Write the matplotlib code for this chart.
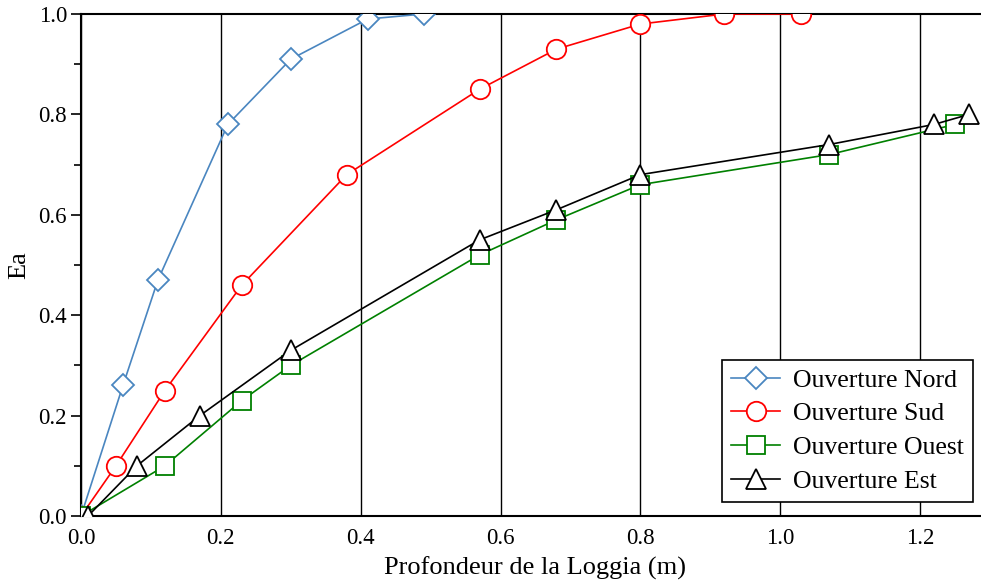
import matplotlib.pyplot as plt
from matplotlib.ticker import MultipleLocator

plt.rcParams['font.family'] = ['Liberation Serif', 'DejaVu Serif']

# ---------------- DATA ---------------- #
nord_x = [0.0, 0.06, 0.11, 0.21, 0.30, 0.41, 0.49]
nord_y = [0.0, 0.26, 0.47, 0.78, 0.91, 0.99, 1.0]

sud_x = [0.0, 0.05, 0.12, 0.23, 0.38, 0.57, 0.68, 0.80, 0.92, 1.03]
sud_y = [0.0, 0.10, 0.25, 0.46, 0.68, 0.85, 0.93, 0.98, 1.0, 1.0]

ouest_x = [0.0, 0.12, 0.23, 0.30, 0.57, 0.68, 0.80, 1.07, 1.25]
ouest_y = [0.0, 0.10, 0.23, 0.30, 0.52, 0.59, 0.66, 0.72, 0.78]

est_x = [0.01, 0.08, 0.17, 0.30, 0.57, 0.68, 0.80, 1.07, 1.22, 1.27]
est_y = [0.0, 0.10, 0.20, 0.33, 0.55, 0.61, 0.68, 0.74, 0.78, 0.80]


def main():
    fig = plt.figure(figsize=(9.81, 5.82), dpi=100)
    # right edge of the axes sits just past the image border
    ax = fig.add_axes([81 / 981, 66 / 582, 909 / 981, 502 / 582])

    ax.plot(nord_x, nord_y, color='#4a86c0', lw=1.2, marker='D', ms=11,
            mfc='white', mec='#4a86c0', mew=1.3, label='Ouverture Nord', zorder=3)
    ax.plot(sud_x, sud_y, color='red', lw=1.2, marker='o', ms=14,
            mfc='white', mec='red', mew=1.3, label='Ouverture Sud', zorder=3)
    ax.plot(ouest_x, ouest_y, color='green', lw=1.2, marker='s', ms=13,
            mfc='white', mec='green', mew=1.3, label='Ouverture Ouest', zorder=3)
    ax.plot(est_x, est_y, color='black', lw=1.2, marker='^', ms=15,
            mfc='white', mec='black', mew=1.3, label='Ouverture Est', zorder=4)

    ax.set_xlim(0, 1.3)
    ax.set_ylim(0, 1.0)
    ax.xaxis.set_major_locator(MultipleLocator(0.2))
    ax.yaxis.set_major_locator(MultipleLocator(0.2))
    ax.yaxis.set_minor_locator(MultipleLocator(0.1))
    ax.xaxis.set_major_formatter(plt.FormatStrFormatter('%.1f'))
    ax.yaxis.set_major_formatter(plt.FormatStrFormatter('%.1f'))

    ax.grid(True, axis='x', color='black', lw=1.0)
    ax.tick_params(axis='x', length=0, labelsize=16.5, pad=9)
    ax.tick_params(axis='y', which='major', direction='out', length=7,
                   width=1.2, labelsize=16.5, right=True, pad=3)
    ax.tick_params(axis='y', which='minor', direction='out', length=5,
                   width=1.2, right=True)
    for s in ax.spines.values():
        s.set_linewidth(1.5)

    ax.set_xlabel('Profondeur de la Loggia (m)', fontsize=19, labelpad=5)
    ax.set_ylabel('Ea', fontsize=19, labelpad=6)

    leg = ax.legend(loc='lower right', bbox_to_anchor=(0.981, 0.028),
                    borderaxespad=0, fontsize=18.5, fancybox=False,
                    framealpha=1, edgecolor='black', handlelength=1.9,
                    borderpad=0.35, labelspacing=0.42, handletextpad=0.5)
    leg.get_frame().set_linewidth(1.2)

    fig.savefig('out.png', dpi=100)


if __name__ == "__main__":
    main()
